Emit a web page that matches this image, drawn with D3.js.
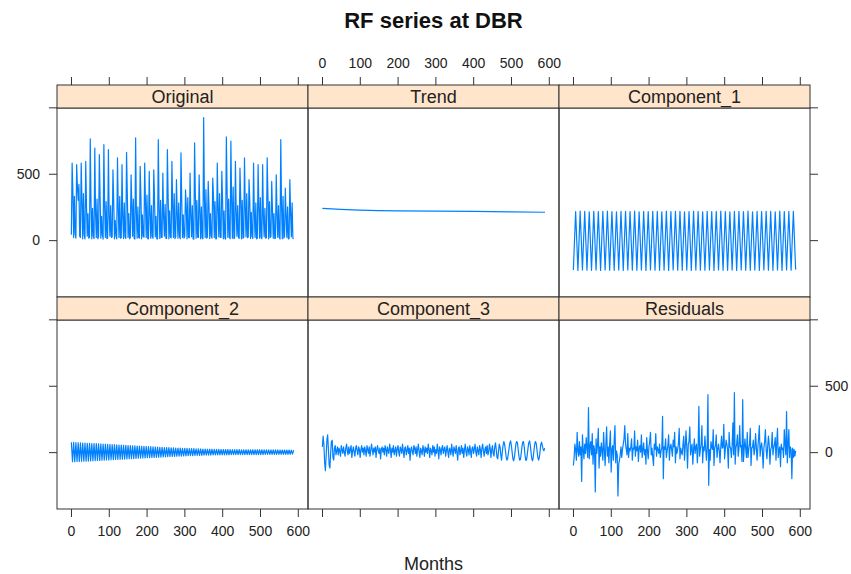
<!DOCTYPE html>
<html>
<head>
<meta charset="utf-8">
<script src="https://cdn.jsdelivr.net/npm/d3@7"></script>
<style>
  body { margin: 0; background: #fff; }
  svg { font-family: "Liberation Sans", Arial, sans-serif; }
</style>
</head>
<body>
<svg id="chart" width="851" height="574"></svg>
<script>
// Panel names, in the order they sit on the page (row 1 then row 2)
const panelNames = ["Original", "Trend", "Component_1", "Component_2", "Component_3", "Residuals"];

const xTicks = [0, 100, 200, 300, 400, 500, 600];
const yTicks = [0, 500, 1000];
const yTickLabels = ["0", "500", ""];

// Original, one value every 2 months from month 1 (six per year)
const original = [
  40,581,360,20,330,50, 15,568,400,300,420,30, 20,581,300,10,350,40, 10,593,260,30,200,15,
  20,762,280,10,240,30, 12,694,200,20,310,10, 25,644,330,15,180,40, 8,720,250,20,290,12,
  15,682,190,30,260,20, 25,530,300,10,150,35, 10,619,240,20,330,15, 18,568,170,12,280,25,
  12,662,350,20,200,10, 20,492,260,30,310,15, 8,770,210,15,250,20, 15,556,330,10,190,30,
  22,581,280,20,340,12, 10,518,200,15,260,25, 14,530,310,25,180,10, 9,757,240,12,300,20,
  20,505,180,30,270,15, 12,682,330,10,220,25, 16,593,260,20,350,12, 25,455,200,15,280,30,
  10,657,300,20,190,15, 30,379,250,10,320,20, 18,505,190,25,260,10, 8,732,340,15,300,22,
  20,492,220,10,250,18, 10,922,300,20,380,15, 25,442,260,12,200,30, 15,467,330,20,290,10,
  12,581,240,25,350,20, 20,518,300,10,220,15, 8,778,380,20,310,25, 10,745,290,15,400,12,
  18,593,220,30,260,20, 14,543,320,10,300,15, 20,619,250,25,350,18, 25,455,300,12,210,30,
  12,581,200,20,280,10, 16,568,260,15,320,22, 10,568,180,25,240,15, 20,619,340,10,290,20,
  28,442,230,15,200,12, 15,492,200,20,260,25, 8,757,260,10,330,15, 30,391,180,20,250,10,
  12,455,200,25,280,15, 10
];

// Trend, read at a few months
const trendMonths = [1, 50, 100, 150, 200, 300, 400, 500, 590];
const trend = [240, 232, 226, 222, 220, 218, 216, 213, 210];

// Component_1, one value every 6 months from month 1
const component1 = [
  -225,215,-228,218,-224,216,-226,214,-227,217,-225,215,-228,216,-224,218,-226,215,-227,214,
  -225,216,-228,217,-224,215,-226,218,-227,214,-225,216,-228,215,-224,217,-226,216,-227,214,
  -225,218,-228,215,-224,216,-226,217,-227,214,-225,215,-228,218,-224,216,-226,214,-227,217,
  -225,215,-228,216,-224,218,-226,215,-227,214,-225,216,-228,217,-224,215,-226,218,-227,214,
  -225,216,-228,215,-224,217,-226,216,-227,214,-225,218,-228,215,-224,216,-226,217,-222
];

// Component_2, one value every 3 months from month 1
const component2 = [
  74,-72,73,-72,72,-71,71,-70,70,-69,69,-68,68,-68,67,-67,66,-66,65,-65,
  64,-64,64,-63,63,-62,62,-61,61,-60,60,-59,59,-58,58,-57,57,-56,56,-55,
  55,-55,54,-54,53,-53,52,-52,51,-51,50,-50,49,-49,48,-48,47,-47,46,-46,
  45,-45,44,-44,44,-43,43,-42,42,-41,41,-40,40,-40,39,-39,38,-38,37,-37,
  36,-36,35,-35,35,-34,34,-33,33,-33,32,-32,31,-31,31,-30,30,-30,29,-29,
  28,-28,28,-27,27,-27,26,-26,26,-25,25,-25,24,-24,24,-24,23,-23,23,-23,
  22,-22,22,-22,22,-21,21,-21,21,-21,21,-20,20,-20,20,-20,20,-20,20,-20,
  19,-19,19,-19,19,-19,19,-19,19,-19,18,-18,18,-18,18,-18,18,-18,18,-18,
  18,-18,18,-18,18,-18,18,-18,18,-18,17,-17,17,-17,17,-17,17,-17,17,-17,
  17,-17,17,-17,16,-16,16,-16,16,-16,16,-16,16,-16,15,-15,15
];

// Component_3, one value every 2 months from month 1
const component3 = [
  40,120,60,-80,-140,-30,90,130,20,-100, -120,0,80,90,-40,-60,30,50,-20,10,
  40,-20,30,10,-30,50,20,-10,40,0, -30,30,60,10,-20,40,-10,20,50,-40,
  10,40,0,-30,30,50,10,-20,40,20, -40,20,50,0,30,-20,40,10,-30,50,
  20,-10,40,-30,10,60,20,-20,30,0, 40,-40,20,50,10,-10,30,-50,20,40,
  0,30,-20,50,20,-30,40,10,-10,60, 20,-40,30,0,50,-20,10,40,-30,20,
  50,0,-30,40,20,-10,60,10,-40,30, 40,-20,10,50,-10,30,-60,20,40,0,
  -20,50,30,-10,40,-30,20,60,0,-40, 30,10,-20,50,20,-30,40,0,30,-10,
  60,20,-40,30,10,-20,50,0,40,-30, 20,-10,60,10,-50,40,20,-20,30,50,
  -10,20,40,-30,10,50,0,-40,30,20, -20,60,10,-30,40,20,-10,50,0,-60,
  30,40,-20,10,50,-10,30,-40,20,60, 0,-30,40,20,-20,50,10,-40,30,40,
  -10,20,60,0,-30,40,10,-20,50,20, -40,30,60,10,-30,20,40,-10,50,-20,
  0,60,30,-40,20,50,-10,-30,40,70, 20,-40,-50,10,60,40,-20,-60,0,50,
  80,60,20,-30,-60,-50,-10,30,70,85, 50,0,-50,-65,-40,10,60,80,70,20,
  -30,-60,-55,-10,40,75,80,40,-20,-60, -60,-20,30,70,85,55,0,-50,-65,-35,
  20,65,80,60,10,-40,-60,-40,10,60, 75,50,20,10,30
];

// Residuals, one value every 2 months from month 1
const residuals = [
  -100,-40,60,20,-60,150,10,-30,80,-20, 40,-220,130,20,-50,60,-10,110,30,-40,
  336,-50,40,80,-20,140,-90,50,20,-300, 100,-10,60,180,-120,40,-30,70,10,-60,
  150,20,-100,60,190,-30,40,-80,60,160, -150,20,50,-60,90,200,-80,10,-20,-330,
  -90,-60,-20,40,-40,20,60,100,200,60, 20,-20,140,-40,30,10,40,100,-60,30,
  20,160,-30,40,10,90,-70,30,50,0, 130,-40,20,70,-20,20,-90,110,10,-50,
  40,80,150,-20,30,-40,-100,60,20,140, -30,40,20,-10,60,-40,10,30,270,-200,
  40,20,100,-40,10,50,130,-60,30,60, 20,-30,90,40,150,-80,40,-10,20,70,
  180,-50,30,0,-20,60,120,-60,40,160, 40,-120,60,80,190,-20,30,60,-90,20,
  100,-10,40,60,-80,30,345,-30,20,60, 200,-80,40,10,120,30,-60,40,433,-250,
  20,-60,80,40,20,170,-100,30,50,130, -40,20,60,10,-80,40,120,30,40,210,
  -50,20,90,60,20,-120,150,40,30,-40, 50,220,-20,448,-90,30,60,130,-30,20,
  200,40,50,-70,395,-70,30,100,20,-40, 150,-40,20,60,180,-100,30,40,90,-20,
  20,140,40,-60,30,110,200,-30,40,70, 10,-120,30,80,170,20,-50,40,120,60,
  -90,20,40,150,-20,30,60,110,-60,70, 180,-40,20,40,-110,60,20,30,-40,170,
  60,-20,306,-80,60,170,-40,40,20,-200, 30,-40,20,-30,10
];

function stepped(values, start, step) {
  return values.map((v, i) => ({ month: start + i * step, value: v }));
}

const series = {
  Original: stepped(original, 1, 2),
  Trend: trend.map((v, i) => ({ month: trendMonths[i], value: v })),
  Component_1: stepped(component1, 1, 6),
  Component_2: stepped(component2, 1, 3),
  Component_3: stepped(component3, 1, 2),
  Residuals: stepped(residuals, 1, 2),
};

const svg = d3.select("#chart");
svg.append("rect").attr("width", 851).attr("height", 574).attr("fill", "#fff");

// layout
const colX = [57, 308, 559, 810];
const rowTop = [85, 297];
const stripH = 23;
const panelH = 189;

const x = d3.scaleLinear().domain([-37, 627]).range([0, colX[1] - colX[0]]);
const y = d3.scaleLinear().domain([-428, 995]).range([panelH, 0]);

const line = d3.line()
  .x((d) => x(d.month))
  .y((d) => y(d.value));

const border = "#333";

panelNames.forEach((name, i) => {
  const row = Math.floor(i / 3);
  const col = i % 3;
  const px = colX[col];
  const py = rowTop[row] + stripH;

  const g = svg.append("g").attr("transform", `translate(${px},${py})`);

  g.append("path")
    .datum(series[name])
    .attr("fill", "none")
    .attr("stroke", "#0080ff")
    .attr("stroke-width", 1.2)
    .attr("stroke-linejoin", "round")
    .attr("d", line);

  g.append("rect")
    .attr("width", x.range()[1])
    .attr("height", panelH)
    .attr("fill", "none")
    .attr("stroke", border);

  // strip
  const s = svg.append("g").attr("transform", `translate(${px},${rowTop[row]})`);
  s.append("rect")
    .attr("width", x.range()[1])
    .attr("height", stripH)
    .attr("fill", "#ffe5cc")
    .attr("stroke", border);
  s.append("text")
    .attr("x", x.range()[1] / 2)
    .attr("y", stripH / 2)
    .attr("dy", "0.36em")
    .attr("text-anchor", "middle")
    .attr("font-size", 18)
    .attr("fill", "#222")
    .text(name);
});

// x axes: top of row 1, bottom of row 2, labels alternate
function styleAxis(sel) {
  sel.select(".domain").remove();
  sel.selectAll(".tick line").attr("stroke", border);
  sel.selectAll(".tick text").attr("fill", "#222").attr("font-size", 14)
    .attr("font-family", "Liberation Sans, Arial, sans-serif");
}

for (let col = 0; col < 3; col++) {
  const withLabels = col === 1;
  svg.append("g")
    .attr("transform", `translate(${colX[col]},${rowTop[0]})`)
    .call(d3.axisTop(x).tickValues(xTicks).tickSize(8).tickPadding(9)
      .tickFormat(withLabels ? d3.format("d") : () => ""))
    .call(styleAxis);

  svg.append("g")
    .attr("transform", `translate(${colX[col]},${rowTop[1] + stripH + panelH})`)
    .call(d3.axisBottom(x).tickValues(xTicks).tickSize(8).tickPadding(9)
      .tickFormat(!withLabels ? d3.format("d") : () => ""))
    .call(styleAxis);
}

// y axes: left of column 1, right of column 3
for (let row = 0; row < 2; row++) {
  const top = rowTop[row] + stripH;
  svg.append("g")
    .attr("transform", `translate(${colX[0]},${top})`)
    .call(d3.axisLeft(y).tickValues(yTicks).tickSize(8).tickPadding(9)
      .tickFormat((d, i) => (row === 0 ? yTickLabels[i] : "")))
    .call(styleAxis);

  svg.append("g")
    .attr("transform", `translate(${colX[3]},${top})`)
    .call(d3.axisRight(y).tickValues(yTicks).tickSize(8).tickPadding(7)
      .tickFormat((d, i) => (row === 1 ? yTickLabels[i] : "")))
    .call(styleAxis);
}

// title and axis label
svg.append("text")
  .attr("x", (colX[0] + colX[3]) / 2)
  .attr("y", 28)
  .attr("text-anchor", "middle")
  .attr("font-size", 22)
  .attr("font-weight", "bold")
  .attr("fill", "#111")
  .text("RF series at DBR");

svg.append("text")
  .attr("x", (colX[0] + colX[3]) / 2)
  .attr("y", 570)
  .attr("text-anchor", "middle")
  .attr("font-size", 18)
  .attr("fill", "#222")
  .text("Months");
</script>
</body>
</html>
